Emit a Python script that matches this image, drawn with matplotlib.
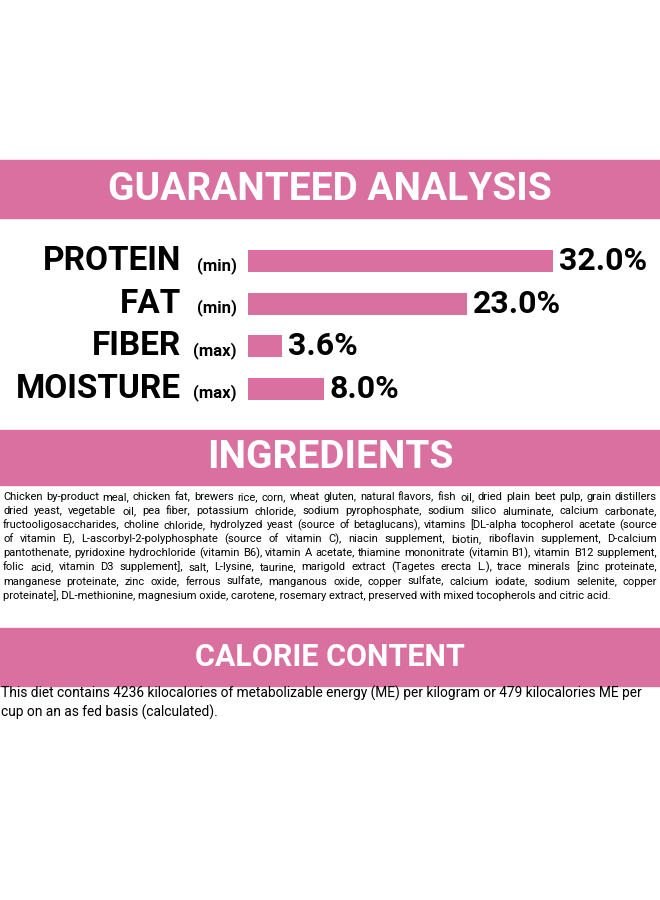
import matplotlib
matplotlib.use("Agg")
import matplotlib.pyplot as plt
from matplotlib.patches import Rectangle

PINK = "#D9709F"
FONT = ["Roboto", "DejaVu Sans"]

nutrients = ["PROTEIN", "FAT", "FIBER", "MOISTURE"]
qualifiers = ["(min)", "(min)", "(max)", "(max)"]
values = [32.0, 23.0, 3.6, 8.0]
value_labels = ["32.0%", "23.0%", "3.6%", "8.0%"]

ingredient_lines = [
    "Chicken by-product meal, chicken fat, brewers rice, corn, wheat gluten, natural flavors, fish oil, dried plain beet pulp, grain distillers",
    "dried yeast, vegetable oil, pea fiber, potassium chloride, sodium pyrophosphate, sodium silico aluminate, calcium carbonate,",
    "fructooligosaccharides, choline chloride, hydrolyzed yeast (source of betaglucans), vitamins [DL-alpha tocopherol acetate (source",
    "of vitamin E), L-ascorbyl-2-polyphosphate (source of vitamin C), niacin supplement, biotin, riboflavin supplement, D-calcium",
    "pantothenate, pyridoxine hydrochloride (vitamin B6), vitamin A acetate, thiamine mononitrate (vitamin B1), vitamin B12 supplement,",
    "folic acid, vitamin D3 supplement], salt, L-lysine, taurine, marigold extract (Tagetes erecta L.), trace minerals [zinc proteinate,",
    "manganese proteinate, zinc oxide, ferrous sulfate, manganous oxide, copper sulfate, calcium iodate, sodium selenite, copper",
    "proteinate], DL-methionine, magnesium oxide, carotene, rosemary extract, preserved with mixed tocopherols and citric acid.",
]
calorie_lines = [
    "This diet contains 4236 kilocalories of metabolizable energy (ME) per kilogram or 479 kilocalories ME per",
    "cup on an as fed basis (calculated).",
]

W, H = 660, 900
fig = plt.figure(figsize=(6.6, 9), dpi=100)
fig.patch.set_facecolor("white")
fig.canvas.draw()
renderer = fig.canvas.get_renderer()

def fy(py):
    return 1 - py / H

def text_width(s, size, weight="normal"):
    t = fig.text(0, 0, s, fontsize=size, family=FONT, fontweight=weight)
    w = t.get_window_extent(renderer).width
    t.remove()
    return w

def banner(top, bottom, title, size):
    fig.patches.append(Rectangle((0, fy(bottom)), 1, (bottom - top) / H,
                                 transform=fig.transFigure, color=PINK, zorder=0))
    fig.text(330 / W, fy((top + bottom) / 2), title, ha="center", va="center",
             color="white", fontsize=size, fontweight="bold", family=FONT)

banner(160, 218, "GUARANTEED ANALYSIS", 28)
banner(430, 485, "INGREDIENTS", 28)
banner(628, 686, "CALORIE CONTENT", 22)

# bar chart
ax = fig.add_axes([248 / W, fy(410), (553 - 248) / W, 170 / H])
ypos = list(range(len(values)))
ax.barh(ypos, values, height=0.52, color=PINK)
ax.set_xlim(0, 32)
ax.set_ylim(3.5, -0.5)
ax.axis("off")
for y, v, name, q, lab in zip(ypos, values, nutrients, qualifiers, value_labels):
    ax.annotate(lab, xy=(v, y), xytext=(4, 0), textcoords="offset points", ha="left",
                va="center", fontsize=23, fontweight="bold", family=FONT)
    ax.annotate(q, xy=(0, y), xytext=(-8, -3), textcoords="offset points", ha="right",
                va="center", fontsize=12, fontweight="bold", family=FONT)
    ax.annotate(name, xy=(0, y), xytext=(-48, 0), textcoords="offset points", ha="right",
                va="center", fontsize=24, fontweight="bold", family=FONT)

# justified ingredient text, size fitted to the longest line
left, right = 3, 657
FS = 7.0
longest = max(text_width(l, FS) for l in ingredient_lines)
FS = FS * (right - left) / longest * 0.985
for i, line in enumerate(ingredient_lines):
    y = fy(500 + i * 14.1)
    if i == len(ingredient_lines) - 1:
        fig.text(left / W, y, line, fontsize=FS, family=FONT, va="baseline")
        continue
    words = line.split(" ")
    widths = [text_width(w, FS) for w in words]
    gap = (right - left - sum(widths)) / (len(words) - 1)
    x = left
    for w, wd in zip(words, widths):
        fig.text(x / W, y, w, fontsize=FS, family=FONT, va="baseline")
        x += wd + gap

CS = 8.0
CS = CS * 644 / text_width(calorie_lines[0], CS)
for i, line in enumerate(calorie_lines):
    fig.text(1 / W, fy(698 + i * 19), line, fontsize=CS, family=FONT, va="baseline")

fig.savefig("out.png", dpi=100, facecolor="white")
